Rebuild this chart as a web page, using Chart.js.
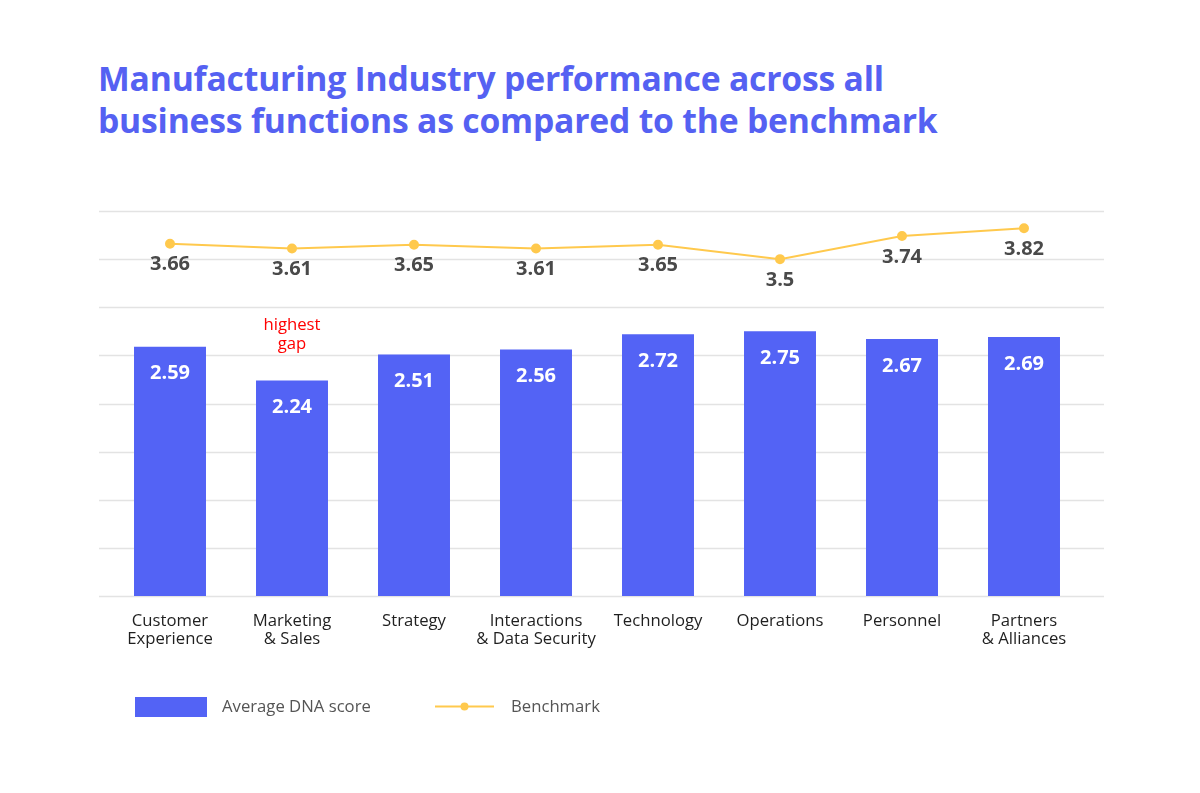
<!DOCTYPE html>
<html>
<head>
<meta charset="utf-8">
<script src="https://cdn.jsdelivr.net/npm/chart.js@4.4.0/dist/chart.umd.min.js"></script>
<style>
  html, body { margin: 0; padding: 0; background: #ffffff; }
  #wrap { position: relative; width: 1200px; height: 793px; overflow: hidden; }
  #title { position: absolute; left: 98px; top: 57px; margin: 0; font-family: "Open Sans", sans-serif; font-weight: 700; font-size: 33.7px; line-height: 42px; color: #5561f2; letter-spacing: -0.2px; white-space: nowrap; }
  #c { position: absolute; left: 0; top: 0; }
</style>
</head>
<body>
<div id="wrap">
  <h1 id="title">Manufacturing Industry performance across all<br>business functions as compared to the benchmark</h1>
  <canvas id="c" width="1200" height="793"></canvas>
</div>
<script>
const categories = [
  ["Customer", "Experience"],
  ["Marketing", "& Sales"],
  ["Strategy"],
  ["Interactions", "& Data Security"],
  ["Technology"],
  ["Operations"],
  ["Personnel"],
  ["Partners", "& Alliances"]
];
const dnaScores = [2.59, 2.24, 2.51, 2.56, 2.72, 2.75, 2.67, 2.69];
const benchmark = [3.66, 3.61, 3.65, 3.61, 3.65, 3.5, 3.74, 3.82];
const yTicks = [0, 0.5, 1, 1.5, 2, 2.5, 3, 3.5, 4];
const seriesNames = ["Average DNA score", "Benchmark"];
const annotationText = ["highest", "gap"];
const annotationIndex = 1;

const BAR_COLOR = "#5363f5";
const LINE_COLOR = "#ffc94d";
const SMALL_FONT = "400 16.7px 'Open Sans', sans-serif";

const gridPlugin = {
  id: "extGrid",
  beforeDatasetsDraw(chart) {
    const ctx = chart.ctx, y = chart.scales.y;
    ctx.save();
    ctx.strokeStyle = "#e3e3e3";
    ctx.lineWidth = 1.5;
    yTicks.forEach(v => {
      const py = Math.round(y.getPixelForValue(v)) + 0.5;
      ctx.beginPath();
      ctx.moveTo(99, py);
      ctx.lineTo(1104, py);
      ctx.stroke();
    });
    ctx.restore();
  }
};

const labelPlugin = {
  id: "valueLabels",
  afterDatasetsDraw(chart) {
    const ctx = chart.ctx;
    ctx.save();
    ctx.textAlign = "center";
    ctx.textBaseline = "middle";
    const barMeta = chart.getDatasetMeta(0);
    ctx.font = "700 20px 'Open Sans', sans-serif";
    ctx.fillStyle = "#ffffff";
    barMeta.data.forEach((el, i) => {
      ctx.fillText(String(dnaScores[i]), el.x, el.y + 27);
    });
    const lineMeta = chart.getDatasetMeta(1);
    ctx.fillStyle = "#4a4a4a";
    lineMeta.data.forEach((el, i) => {
      ctx.fillText(String(benchmark[i]), el.x, el.y + 21);
    });
    const a = barMeta.data[annotationIndex];
    ctx.font = SMALL_FONT;
    ctx.fillStyle = "#ff0000";
    ctx.fillText(annotationText[0], a.x, a.y - 55);
    ctx.fillText(annotationText[1], a.x, a.y - 36);
    ctx.restore();
  }
};

const legendPlugin = {
  id: "customLegend",
  afterDraw(chart) {
    const ctx = chart.ctx;
    ctx.save();
    ctx.textBaseline = "middle";
    ctx.textAlign = "left";
    ctx.font = SMALL_FONT;
    ctx.fillStyle = chart.data.datasets[0].backgroundColor;
    ctx.fillRect(135, 697, 72, 20);
    ctx.fillStyle = "#555555";
    ctx.fillText(chart.data.datasets[0].label, 222, 707);
    ctx.strokeStyle = chart.data.datasets[1].borderColor;
    ctx.lineWidth = 2;
    ctx.beginPath();
    ctx.moveTo(435, 706.5);
    ctx.lineTo(494, 706.5);
    ctx.stroke();
    ctx.fillStyle = chart.data.datasets[1].pointBackgroundColor;
    ctx.beginPath();
    ctx.arc(464.5, 706.5, 4, 0, Math.PI * 2);
    ctx.fill();
    ctx.fillStyle = "#555555";
    ctx.fillText(chart.data.datasets[1].label, 511, 707);
    ctx.restore();
  }
};

new Chart(document.getElementById("c"), {
  data: {
    labels: categories,
    datasets: [
      {
        type: "bar",
        label: seriesNames[0],
        data: dnaScores,
        backgroundColor: BAR_COLOR,
        barPercentage: 0.59,
        categoryPercentage: 1,
        order: 2
      },
      {
        type: "line",
        label: seriesNames[1],
        data: benchmark,
        borderColor: LINE_COLOR,
        backgroundColor: LINE_COLOR,
        pointBackgroundColor: LINE_COLOR,
        pointBorderColor: LINE_COLOR,
        borderWidth: 2,
        pointRadius: 4,
        tension: 0,
        order: 1
      }
    ]
  },
  options: {
    responsive: false,
    animation: false,
    devicePixelRatio: 1,
    layout: { padding: { left: 109, right: 115, top: 211, bottom: 137 } },
    plugins: {
      legend: { display: false },
      tooltip: { enabled: false },
      title: { display: false }
    },
    scales: {
      x: {
        grid: { display: false },
        border: { display: false },
        ticks: {
          color: "#1f1f1f",
          font: { family: "'Open Sans', sans-serif", size: 16.7, lineHeight: 1.1 },
          padding: 8,
          maxRotation: 0,
          autoSkip: false
        },
        afterFit(scale) { scale.height = 60; }
      },
      y: {
        display: false,
        min: 0,
        max: 4,
        ticks: { stepSize: 0.5 }
      }
    }
  },
  plugins: [gridPlugin, labelPlugin, legendPlugin]
});
</script>
</body>
</html>
